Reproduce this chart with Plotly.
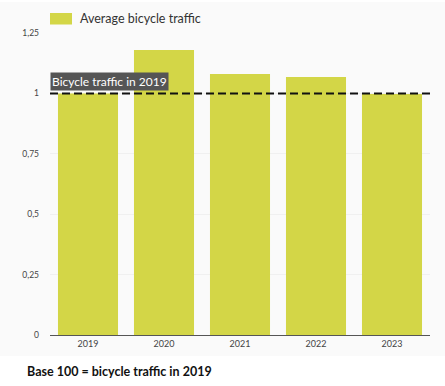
import plotly.graph_objects as go

years = ["2019", "2020", "2021", "2022", "2023"]
traffic = [1.0, 1.18, 1.08, 1.068, 0.998]
y_ticks = [0, 0.25, 0.5, 0.75, 1, 1.25]
y_labels = ["0", "0,25", "0,5", "0,75", "1", "1,25"]
series_name = "Average bicycle traffic"

bar_color = "#d3d647"
font_family = "Lato, 'Open Sans', sans-serif"

PLOT_BOTTOM = 335
PLOT_H = 302
PLOT_W = 380


def py(pix):
    return (PLOT_BOTTOM - pix) / PLOT_H


fig = go.Figure()
fig.add_trace(go.Bar(
    x=years, y=traffic, name=series_name, showlegend=False,
    marker=dict(color=bar_color, line=dict(width=0)),
))

# light panel background
fig.add_shape(type="rect", xref="paper", yref="paper", x0=-0.14, x1=1.04, y0=py(356), y1=py(2),
              fillcolor="#fafafa", line=dict(width=0), layer="below")
# reference line at 1
fig.add_shape(type="line", xref="paper", yref="y", x0=0, x1=1, y0=1, y1=1,
              line=dict(color="#111111", width=2, dash="8px,4px"))
# legend swatch + label
fig.add_shape(type="rect", xref="paper", yref="paper", x0=0.0, x1=22 / PLOT_W, y0=py(24.5),
              y1=py(13), fillcolor=bar_color, line=dict(width=0))
fig.add_annotation(text=series_name, xref="paper", yref="paper", x=28 / PLOT_W, y=py(19),
                   xanchor="left", yanchor="middle", showarrow=False,
                   font=dict(color="#333333", size=12.5, family=font_family))

fig.add_annotation(text="Bicycle traffic in 2019", xref="paper", yref="y", x=0, y=1,
                   xanchor="left", yanchor="bottom", yshift=2, showarrow=False,
                   bgcolor="#555555", font=dict(color="white", size=12, family=font_family),
                   borderpad=1)
fig.add_annotation(text="<b>Base 100 = bicycle traffic in 2019</b>", xref="paper", yref="paper",
                   x=-25 / PLOT_W, y=py(371), xanchor="left", yanchor="middle", showarrow=False,
                   font=dict(color="#111111", size=12.5, family=font_family))

fig.update_layout(
    width=445, height=386,
    margin=dict(l=50, r=15, t=33, b=51, autoexpand=False),
    paper_bgcolor="white", plot_bgcolor="rgba(0,0,0,0)",
    bargap=0.21,
    font=dict(family=font_family, size=9, color="#444444"),
    xaxis=dict(showline=True, linecolor="#555555", linewidth=1, ticks="", showgrid=False,
               tickfont=dict(size=9, color="#444444")),
    yaxis=dict(range=[0, 1.25], tickvals=y_ticks, ticktext=y_labels, showgrid=True,
               gridcolor="#f0f0f0", zeroline=False, ticks="", ticklabelstandoff=10,
               tickfont=dict(size=8.5, color="#444444")),
)

fig.write_html("out.html", config={"displayModeBar": False},
               post_script="document.body.style.margin='0';")
